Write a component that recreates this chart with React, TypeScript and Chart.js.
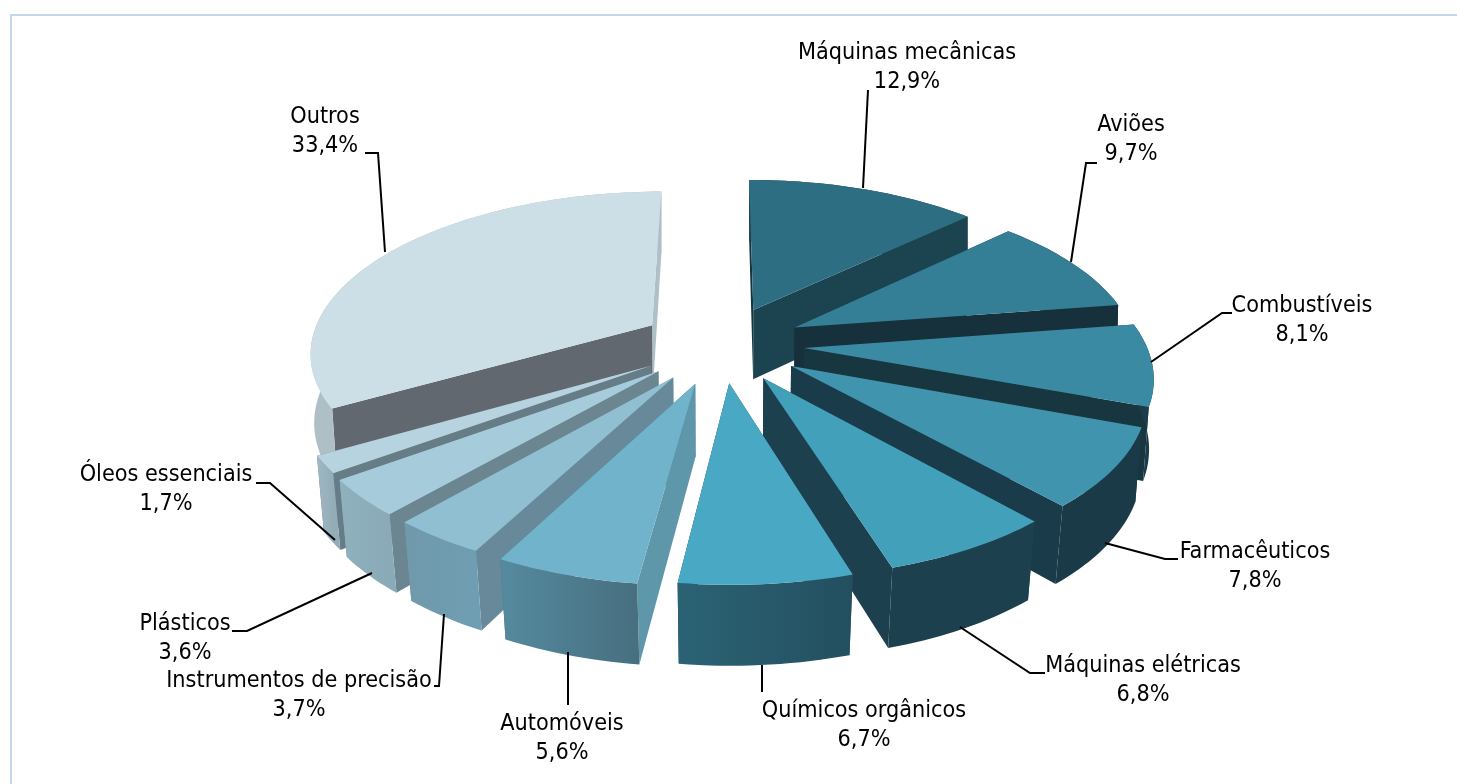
import React, { useEffect, useRef } from "react";
import { Chart, registerables } from "chart.js";

Chart.register(...registerables);

const categories = [
  "Máquinas mecânicas",
  "Aviões",
  "Combustíveis",
  "Farmacêuticos",
  "Máquinas elétricas",
  "Químicos orgânicos",
  "Automóveis",
  "Instrumentos de precisão",
  "Plásticos",
  "Óleos essenciais",
  "Outros",
];
const shares = [12.9, 9.7, 8.1, 7.8, 6.8, 6.7, 5.6, 3.7, 3.6, 1.7, 33.4];

const topColors = ["#2e6e82", "#347f96", "#3a8aa3", "#4094ae", "#43a0bb", "#49a9c4", "#70b3cb", "#8fbfd1", "#a6cbda", "#b6d3df", "#ccdee6"];
const startWallColors = ["#16343f", "#16313b", "#17363f", "#1a3b49", "#1c404d", "#225060", "#5e97aa", "#67899a", "#6b8690", "#667d87", "#61686f"];
const endWallColors = ["#1b4350", "#16313b", "#17363f", "#1a3b49", "#1c404d", "#1c404d", "#4a7486", "#6f98aa", "#8aa8b5", "#6a7f89", "#aebfc6"];
const outerWallFrom = ["#1b4350", "#16313b", "#1b3d49", "#1a3a47", "#1c404d", "#2b6374", "#558a9e", "#7099ab", "#8fb0bd", "#a0b7c2", "#aebfc6"];
const outerWallTo = ["#1b4350", "#16313b", "#1b3d49", "#1a3a47", "#1c404d", "#234f60", "#476f80", "#6f9db1", "#8aaab8", "#93adb8", "#aebfc6"];
const explodePx = [72, 72, 72, 72, 72, 72, 76, 74, 74, 73, 72];
const pieRadius = 300;

// Label layout: text centre x, first line y, then the leader polyline.
const labelCentres = [[907, 53], [1131, 125], [1302, 306], [1255, 552], [1143, 666], [864, 711], [562, 724], [299, 681], [185, 624], [166, 475], [325, 117]];
const leaders = [
  [[863, 188], [868, 90]],
  [[1071, 262], [1086, 163], [1097, 163]],
  [[1151, 362], [1222, 313], [1232, 313]],
  [[1105, 543], [1165, 559], [1178, 559]],
  [[960, 627], [1030, 673], [1045, 673]],
  [[762, 665], [762, 692]],
  [[568, 652], [568, 705]],
  [[444, 614], [439, 686], [434, 686]],
  [[372, 573], [247, 631], [232, 631]],
  [[335, 540], [270, 483], [256, 483]],
  [[385, 252], [378, 153], [365, 153]],
];

const formatShare = (v: number) => v.toFixed(1).replace(".", ",") + "%";

// Perspective camera for the tilted disc.
const CX = 722, CY = 344, SX = 342, SY = 158.7, QX = 0.155, QY = 0.148;
const project = (px: number, py: number) => [CX + (SX * px) / (1 - QX * py), CY + (SY * py) / (1 - QY * py)];
const lower = (px: number, py: number) => {
  const [x, y] = project(px, py);
  const shrink = Math.max(0, 0.008 + 0.014 * py);
  return [CX + (x - CX) * (1 - shrink), y + 71 + 8 * py];
};

const pie3d = {
  id: "pie3d",
  beforeDatasetsDraw(chart: any) {
    const ctx = chart.ctx;
    const arcs = chart.getDatasetMeta(0).data.map((arc: any, i: number) => {
      const p = arc.getProps(["startAngle", "endAngle", "outerRadius"], true);
      const mid = (p.startAngle + p.endAngle) / 2;
      const o = arc.options.offset / p.outerRadius;
      return { i, a0: p.startAngle, a1: p.endAngle, mid, ox: Math.cos(mid) * o, oy: Math.sin(mid) * o, fill: arc.options.backgroundColor };
    });
    arcs.sort((a: any, b: any) => Math.sin(a.mid) - Math.sin(b.mid));
    const poly = (pts: number[][], fill: any) => {
      ctx.beginPath();
      pts.forEach(([x, y], k) => (k ? ctx.lineTo(x, y) : ctx.moveTo(x, y)));
      ctx.closePath();
      ctx.fillStyle = fill;
      ctx.fill();
    };
    ctx.save();
    for (const s of arcs) {
      const n = Math.max(8, Math.ceil((s.a1 - s.a0) * 40));
      const rim: number[][] = [];
      for (let k = 0; k <= n; k++) {
        const a = s.a0 + ((s.a1 - s.a0) * k) / n;
        rim.push([s.ox + Math.cos(a), s.oy + Math.sin(a)]);
      }
      const top = (q: number[]) => project(q[0], q[1]);
      const bot = (q: number[]) => lower(q[0], q[1]);
      const tip = [s.ox, s.oy];
      const first = rim[0], last = rim[n];
      const startWall = [top(tip), top(first), bot(first), bot(tip)];
      const endWall = [top(tip), top(last), bot(last), bot(tip)];
      if (Math.cos(s.mid) > 0) {
        poly(startWall, startWallColors[s.i]);
        poly(endWall, endWallColors[s.i]);
      } else {
        poly(endWall, endWallColors[s.i]);
        poly(startWall, startWallColors[s.i]);
      }
      const topRim = rim.map(top);
      const botRim = rim.map(bot).reverse();
      const xs = topRim.map((q) => q[0]);
      const g = ctx.createLinearGradient(Math.min(...xs), 0, Math.max(...xs), 0);
      g.addColorStop(0, outerWallFrom[s.i]);
      g.addColorStop(1, outerWallTo[s.i]);
      poly([...topRim, ...botRim], g);
      poly([top(tip), ...topRim], s.fill);
    }
    ctx.restore();
    return false;
  },
  afterDraw(chart: any) {
    const ctx = chart.ctx;
    ctx.save();
    ctx.strokeStyle = "#000000";
    ctx.lineWidth = 2;
    leaders.forEach((line) => {
      ctx.beginPath();
      line.forEach(([x, y], k) => (k ? ctx.lineTo(x, y) : ctx.moveTo(x, y)));
      ctx.stroke();
    });
    ctx.fillStyle = "#000000";
    ctx.font = '23.2px "DejaVu Sans Condensed", "DejaVu Sans"';
    ctx.textAlign = "center";
    ctx.textBaseline = "middle";
    categories.forEach((name, i) => {
      const [x, y] = labelCentres[i];
      ctx.fillText(name, x, y);
      ctx.fillText(formatShare(shares[i]), x, y + 29);
    });
    ctx.restore();
  },
};

export default function App() {
  const ref = useRef<HTMLCanvasElement>(null);
  useEffect(() => {
    const chart = new Chart(ref.current!, {
      type: "pie",
      data: {
        labels: categories,
        datasets: [{ data: shares, backgroundColor: topColors, offset: explodePx, borderWidth: 0 }],
      },
      options: {
        animation: false,
        responsive: false,
        radius: pieRadius,
        plugins: { legend: { display: false }, tooltip: { enabled: false } },
      },
      plugins: [pie3d],
    } as any);
    return () => chart.destroy();
  }, []);
  return (
    <div style={{ position: "fixed", left: 0, top: 0, width: 1457, height: 784, overflow: "hidden", background: "#fff" }}>
      <canvas ref={ref} width={1457} height={784} style={{ position: "absolute", left: 0, top: 0, display: "block" }} />
      <div style={{ position: "absolute", left: 10, top: 14, width: 1600, height: 900, borderLeft: "2px solid #c4d6ea", borderTop: "2px solid #c4d6ea" }} />
    </div>
  );
}
